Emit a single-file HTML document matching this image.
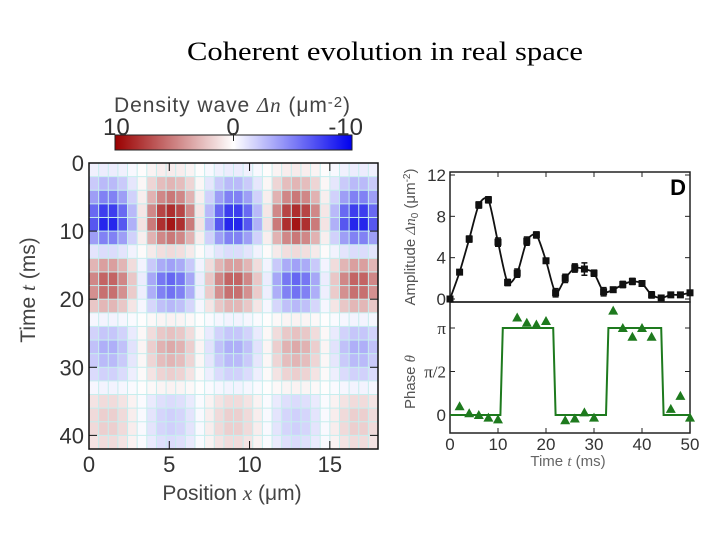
<!DOCTYPE html>
<html><head><meta charset="utf-8"><style>
html,body{margin:0;padding:0;background:#fff;}
svg{display:block;font-family:"Liberation Sans",sans-serif;}
</style></head><body>
<svg id="s" width="720" height="540" viewBox="0 0 720 540">
<defs>
<linearGradient id="cb" x1="0" x2="1" y1="0" y2="0">
<stop offset="0" stop-color="#9a0000"/><stop offset="0.5" stop-color="#ffffff"/><stop offset="1" stop-color="#0000ee"/>
</linearGradient>
</defs>
<text x="385" y="60" text-anchor="middle" font-family="Liberation Serif,serif" font-size="26" textLength="396" lengthAdjust="spacingAndGlyphs" fill="#000">Coherent evolution in real space</text>
<g>
<text x="114" y="112" font-size="21" fill="#444" textLength="236">Density wave  <tspan font-family="Liberation Serif,serif" font-style="italic">Δn</tspan> (μm<tspan font-size="15" dy="-5">-2</tspan><tspan dy="5">)</tspan></text>
<rect x="115" y="135" width="237" height="15" fill="url(#cb)" stroke="#222" stroke-width="1"/>
<line x1="233.5" y1="133" x2="233.5" y2="141" stroke="#222"/>
<text x="103" y="135" font-size="24" fill="#333">10</text>
<text x="233" y="135" font-size="24" fill="#333" text-anchor="middle">0</text>
<text x="363" y="135" font-size="24" fill="#333" text-anchor="end">-10</text>
</g>
<g id="heat"></g>
<g id="right"></g>
</svg>
<script>
// Heatmap data: amplitude per 2 ms row (signed) and spatial profile per 0.6 um column
const rowTimes = [0,2,4,6,8,10,12,14,16,18,20,22,24,26,28,30,32,34,36,38,40];
const rowAmplitude = [0.8,3,5.5,8.5,9.5,5.5,1.5,-4,-6.5,-6,-3,0.5,2.5,3.5,3,2,0.5,-1.5,-2,-2,-1.5];
const colPositions = [0,0.6,1.2,1.8,2.4,3,3.6,4.2,4.8,5.4,6,6.6,7.2,7.8,8.4,9,9.6,10.2,10.8,11.4,12,12.6,13.2,13.8,14.4,15,15.6,16.2,16.8,17.4];
const colProfile = [-0.75,-0.97,-0.97,-0.75,-0.35,0.12,0.57,0.89,1,0.89,0.57,0.12,-0.35,-0.75,-0.97,-0.97,-0.75,-0.35,0.12,0.57,0.89,1,0.89,0.57,0.12,-0.35,-0.75,-0.97,-0.97,-0.75];
const xTicks = [0,5,10,15];
const yTicks = [0,10,20,30,40];
// Amplitude panel
const ampTimes = [0,2,4,6,8,10,12,14,16,18,20,22,24,26,28,30,32,34,36,38,40,42,44,46,48,50];
const ampValues = [0,2.6,5.8,9.1,9.6,5.5,1.6,2.5,5.6,6.2,3.7,0.6,2.0,3.0,2.9,2.5,0.7,0.9,1.4,1.7,1.5,0.4,0.1,0.4,0.4,0.6];
const ampErrors = [0.1,0.2,0.3,0.3,0.3,0.4,0.3,0.4,0.4,0.3,0.2,0.4,0.4,0.4,0.6,0.3,0.4,0.2,0.3,0.3,0.2,0.3,0.2,0.2,0.2,0.2];
// Phase panel (units of pi)
const phaseTimes = [2,4,6,8,10,14,16,18,20,24,26,28,30,34,36,38,40,42,46,48,50];
const phaseValues = [0.1,0.02,0,-0.03,-0.05,1.12,1.06,1.04,1.08,-0.06,-0.04,0.03,-0.03,1.2,1.0,0.9,1.0,0.9,0.07,0.22,-0.03];
const stepTimes = [0,10.5,11,21.5,22,32.5,33,44,44.5,50];
const stepValues = [0,0,1,1,0,0,1,1,0,0];
const ampTicks = [0,4,8,12];
const timeTicks = [0,10,20,30,40,50];

const NS="http://www.w3.org/2000/svg";
function mk(tag,attrs,parent){const e=document.createElementNS(NS,tag);for(const k in attrs)e.setAttribute(k,attrs[k]);parent.appendChild(e);return e;}

const HX0=89,HX1=378,HY0=163,HY1=449;
const hx=v=>HX0+(v/18)*(HX1-HX0);
const hy=t=>HY0+(t/42)*(HY1-HY0);
function color(v){
  v=Math.max(-10,Math.min(10,v))/10;
  let r,g,b;
  if(v>=0){r=255-(255-160)*v;g=255-(255-10)*v;b=255-(255-10)*v;}
  else{const a=-v;r=255-(255-20)*a;g=255-(255-20)*a;b=255-(255-235)*a;}
  return `rgb(${r|0},${g|0},${b|0})`;
}
const heat=document.getElementById('heat');
mk('rect',{x:HX0,y:HY0,width:HX1-HX0,height:HY1-HY0,fill:'#c6eeee'},heat);
rowTimes.forEach((t,j)=>{
  colPositions.forEach((x,i)=>{
    const v=rowAmplitude[j]*colProfile[i];
    const r=mk('rect',{x:hx(x)+0.5,y:hy(t)+0.5,width:hx(0.6)-hx(0)-1,height:hy(2)-hy(0)-1,fill:color(v)},heat);
    
    
  });
});
const hb=mk('rect',{x:HX0,y:HY0,width:HX1-HX0,height:HY1-HY0,fill:'none',stroke:'#111','stroke-width':1.5},heat);


xTicks.forEach(v=>{
  mk('line',{x1:hx(v),x2:hx(v),y1:HY0,y2:HY0+8,stroke:'#111'},heat);
  mk('line',{x1:hx(v),x2:hx(v),y1:HY1,y2:HY1-8,stroke:'#111'},heat);
  const t=mk('text',{x:hx(v),y:472,'text-anchor':'middle','font-size':22,fill:'#333'},heat);
  t.textContent=v;
  
  
});
yTicks.forEach(v=>{
  mk('line',{x1:HX0,x2:HX0+8,y1:hy(v),y2:hy(v),stroke:'#111'},heat);
  mk('line',{x1:HX1,x2:HX1-8,y1:hy(v),y2:hy(v),stroke:'#111'},heat);
  const t=mk('text',{x:84,y:hy(v)+8,'text-anchor':'end','font-size':22,fill:'#333'},heat);
  t.textContent=v;
  
  
});
let tt=mk('text',{x:232,y:500,'text-anchor':'middle','font-size':21,fill:'#444'},heat);
tt.innerHTML='Position <tspan font-family="Liberation Serif,serif" font-style="italic">x</tspan> (μm)';


tt=mk('text',{x:0,y:0,'text-anchor':'middle','font-size':21,fill:'#444',transform:'translate(35,290) rotate(-90)'},heat);
tt.innerHTML='Time <tspan font-family="Liberation Serif,serif" font-style="italic">t</tspan> (ms)';



const R=document.getElementById('right');
const PX0=450,PX1=690;
const px=t=>PX0+(t/50)*(PX1-PX0);
const ay=v=>299-(v/12)*(299-175);
const py=v=>415-v*(415-328);
let f=mk('rect',{x:PX0,y:172,width:PX1-PX0,height:130,fill:'none',stroke:'#222','stroke-width':1.5},R);


f=mk('rect',{x:PX0,y:302,width:PX1-PX0,height:131,fill:'none',stroke:'#222','stroke-width':1.5},R);


ampTicks.forEach(v=>{
  mk('line',{x1:PX0,x2:PX0+5,y1:ay(v),y2:ay(v),stroke:'#222'},R);
  mk('line',{x1:PX1,x2:PX1-5,y1:ay(v),y2:ay(v),stroke:'#222'},R);
  const t=mk('text',{x:446,y:ay(v)+6,'text-anchor':'end','font-size':17,fill:'#333'},R);
  t.textContent=v;
  
  
});
[[0,'0'],[0.5,'π/2'],[1,'π']].forEach(([v,l])=>{
  mk('line',{x1:PX0,x2:PX0+5,y1:py(v),y2:py(v),stroke:'#222'},R);
  mk('line',{x1:PX1,x2:PX1-5,y1:py(v),y2:py(v),stroke:'#222'},R);
  const t=mk('text',{x:446,y:py(v)+6,'text-anchor':'end','font-size':17,fill:'#333','font-family':v===0?'Liberation Sans,sans-serif':'Liberation Serif,serif'},R);
  t.textContent=l;
  
  
});
timeTicks.forEach(v=>{
  mk('line',{x1:px(v),x2:px(v),y1:433,y2:428,stroke:'#222'},R);
  mk('line',{x1:px(v),x2:px(v),y1:172,y2:177,stroke:'#222'},R);
  const t=mk('text',{x:px(v),y:450,'text-anchor':'middle','font-size':17,fill:'#333'},R);
  t.textContent=v;
  
  
});
tt=mk('text',{x:568,y:466,'text-anchor':'middle','font-size':15,fill:'#666'},R);
tt.innerHTML='Time <tspan font-family="Liberation Serif,serif" font-style="italic">t</tspan> (ms)';


tt=mk('text',{x:0,y:0,'text-anchor':'middle','font-size':15,fill:'#555',transform:'translate(415,237) rotate(-90)'},R);
tt.innerHTML='Amplitude <tspan font-family="Liberation Serif,serif" font-style="italic">Δn</tspan><tspan font-size="10" dy="3">0</tspan><tspan dy="-3"> (μm</tspan><tspan font-size="10" dy="-5">-2</tspan><tspan dy="5">)</tspan>';


tt=mk('text',{x:0,y:0,'text-anchor':'middle','font-size':15,fill:'#555',transform:'translate(415,382) rotate(-90)'},R);
tt.innerHTML='Phase <tspan font-family="Liberation Serif,serif" font-style="italic">θ</tspan>';


tt=mk('text',{x:686,y:195,'text-anchor':'end','font-size':22,'font-weight':'bold',fill:'#000'},R);
tt.textContent='D';


let pts=ampTimes.map((t,i)=>[px(t),ay(ampValues[i])]);
let d='M'+pts[0].join(',');
for(let i=0;i<pts.length-1;i++){
  const p0=pts[Math.max(0,i-1)],p1=pts[i],p2=pts[i+1],p3=pts[Math.min(pts.length-1,i+2)];
  const c1=[p1[0]+(p2[0]-p0[0])/8,p1[1]+(p2[1]-p0[1])/8],c2=[p2[0]-(p3[0]-p1[0])/8,p2[1]-(p3[1]-p1[1])/8];
  d+=`C${c1.join(',')} ${c2.join(',')} ${p2.join(',')}`;
}
let ln=mk('path',{d:d,fill:'none',stroke:'#111','stroke-width':1.8},R);


ampTimes.forEach((t,i)=>{
  const x=px(t),y=ay(ampValues[i]),e=ay(0)-ay(ampErrors[i]);
  const eb=mk('path',{d:`M${x},${y-e}V${y+e}M${x-3},${y-e}H${x+3}M${x-3},${y+e}H${x+3}`,stroke:'#111','stroke-width':1.5,fill:'none'},R);
  
  
  const m=mk('rect',{x:x-3.5,y:y-3.5,width:7,height:7,fill:'#111'},R);
  
  
});
ln=mk('polyline',{points:stepTimes.map((t,i)=>px(t)+','+py(stepValues[i])).join(' '),fill:'none',stroke:'#1e7a1e','stroke-width':2},R);


phaseTimes.forEach((t,i)=>{
  const x=px(t),y=py(phaseValues[i]);
  const m=mk('polygon',{points:`${x},${y-5} ${x-5},${y+4} ${x+5},${y+4}`,fill:'#1e7a1e'},R);
  
  
});
</script>
</body></html>
